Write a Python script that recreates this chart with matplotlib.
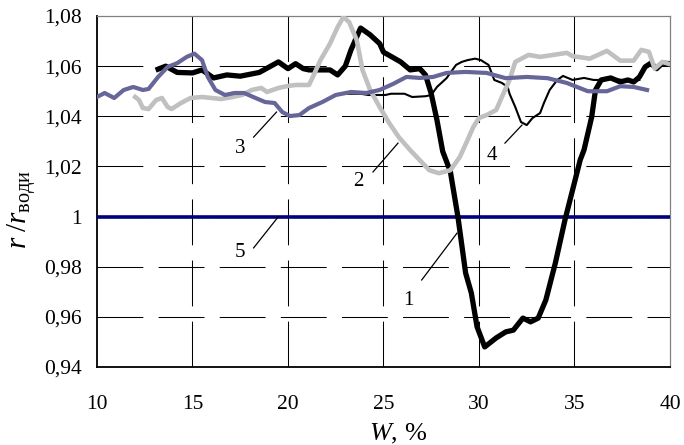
#%% 1) Import
import matplotlib
matplotlib.use('Agg')
import matplotlib.pyplot as plt

#%% 2) Data (W in %, r/r_water)

# curve 1 - thick black
w1 = [13.2, 13.6, 14.2, 15.0, 15.5, 16.1, 16.8, 17.5, 18.5, 19.5, 20.0, 20.4, 20.8,
      21.1, 22.2, 22.6, 23.0, 23.3, 23.8, 24.3, 24.8, 25.0, 25.9, 26.4, 26.9, 27.2,
      27.5, 27.8, 28.1, 28.5, 28.9, 29.3, 29.6, 29.9, 30.3, 30.9, 31.4, 31.8,
      32.3, 32.7, 33.1, 33.5, 34.0, 34.5, 34.9, 35.3, 35.5, 35.9, 36.1, 36.4, 36.9,
      37.4, 37.8, 38.1, 38.4, 38.7, 39.0, 39.3, 39.6, 40.0]
r1 = [1.0588, 1.0600, 1.0575, 1.0573, 1.0585, 1.0553, 1.0565, 1.0560, 1.0575, 1.0617,
      1.0590, 1.0610, 1.0590, 1.0585, 1.0585, 1.0565, 1.0600, 1.0665, 1.0752, 1.0725,
      1.0690, 1.0656, 1.0617, 1.0585, 1.0590, 1.0565, 1.0490, 1.0385, 1.0260, 1.0180,
      0.9998, 0.9775, 0.9695, 0.9560, 0.9480, 0.9516, 0.9540, 0.9547, 0.9595,
      0.9580, 0.9595, 0.9667, 0.9815, 0.9986, 1.0106, 1.0226, 1.0266, 1.0397, 1.0505,
      1.0545, 1.0553, 1.0537, 1.0545, 1.0537, 1.0557, 1.0597, 1.0612, 1.0590, 1.0612,
      1.0610]

# curve 2 - light grey
w2 = [12.0, 12.2, 12.4, 12.7, 13.1, 13.4, 13.7, 13.9, 14.4, 14.9, 15.5, 16.0, 16.5,
      17.1, 17.6, 18.1, 18.6, 18.9, 19.5, 20.0, 20.4, 20.9, 21.1, 21.3, 21.7, 22.2,
      22.6, 22.9, 23.2, 23.6, 23.9, 24.3, 24.8, 25.3, 25.8, 26.4, 26.9, 27.4, 27.9,
      28.5, 29.0, 29.4, 29.7, 30.0, 30.4, 30.9, 31.2, 31.6, 31.9, 32.6, 33.2, 33.9,
      34.6, 34.9, 35.8, 36.7, 37.4, 38.1, 38.5, 38.9, 39.2, 39.6, 39.9]
r2 = [1.0477, 1.0465, 1.0433, 1.0429, 1.0465, 1.0473, 1.0437, 1.0429, 1.0453, 1.0473,
      1.0477, 1.0473, 1.0469, 1.0477, 1.0485, 1.0505, 1.0513, 1.0497, 1.0513, 1.0521,
      1.0525, 1.0525, 1.0525, 1.0557, 1.0624, 1.0690, 1.0756, 1.0796, 1.0776, 1.0704,
      1.0585, 1.0505, 1.0437, 1.0373, 1.0317, 1.0265, 1.0225, 1.0185, 1.0173, 1.0185,
      1.0238, 1.0305, 1.0357, 1.0393, 1.0405, 1.0425, 1.0477, 1.0545, 1.0617, 1.0645,
      1.0637, 1.0645, 1.0653, 1.0640, 1.0630, 1.0661, 1.0622, 1.0622, 1.0665, 1.0657,
      1.0590, 1.0617, 1.0610]

# curve 3 - slate blue
w3 = [10.0, 10.4, 10.9, 11.4, 11.9, 12.4, 12.7, 13.2, 13.7, 14.2, 14.7, 15.1, 15.5,
      15.8, 16.2, 16.7, 17.2, 17.7, 18.3, 18.8, 19.3, 19.7, 20.1, 20.6, 21.1, 21.8,
      22.5, 23.3, 24.1, 24.8, 25.5, 26.2, 26.9, 27.6, 28.3, 29.3, 30.4, 31.4, 32.5,
      33.6, 34.6, 35.7, 36.7, 37.4, 38.1, 38.8]
r3 = [1.0477, 1.0493, 1.0473, 1.0505, 1.0517, 1.0505, 1.0509, 1.0557, 1.0597, 1.0612,
      1.0637, 1.0650, 1.0624, 1.0557, 1.0505, 1.0485, 1.0493, 1.0493, 1.0473, 1.0457,
      1.0453, 1.0417, 1.0401, 1.0405, 1.0433, 1.0457, 1.0485, 1.0497, 1.0493, 1.0505,
      1.0529, 1.0557, 1.0553, 1.0557, 1.0573, 1.0577, 1.0573, 1.0552, 1.0557, 1.0552,
      1.0533, 1.0500, 1.0500, 1.0520, 1.0517, 1.0505]

# curve 4 - thin black
w4 = [23.0, 23.8, 24.2, 25.1, 25.4, 26.1, 26.5, 27.2, 27.5, 27.8, 28.3, 28.8, 29.1,
      29.4, 29.8, 30.1, 30.5, 30.8, 31.2, 31.5, 31.6, 31.9, 32.2, 32.5, 32.8, 33.2,
      33.4, 33.7, 34.1, 34.4, 34.9, 35.5, 36.0, 36.5, 37.0, 37.5, 37.9, 38.4]
r4 = [1.0490, 1.0490, 1.0485, 1.0485, 1.0490, 1.0490, 1.0477, 1.0480, 1.0485, 1.0517,
      1.0552, 1.0605, 1.0617, 1.0624, 1.0630, 1.0624, 1.0605, 1.0545, 1.0533, 1.0517,
      1.0490, 1.0437, 1.0377, 1.0365, 1.0393, 1.0413, 1.0453, 1.0505, 1.0545, 1.0561,
      1.0545, 1.0553, 1.0545, 1.0545, 1.0550, 1.0545, 1.0537, 1.0545]

# curve 5 - water reference
w5 = [10, 40]
r5 = [1.0, 1.0]

# labels of the curves: text position and leader line (from, to)
lab_txt = ['1', '2', '3', '4', '5']
lab_xy = [(26.3, 0.9667), (23.7, 1.0138), (17.5, 1.0273), (30.7, 1.0245), (17.5, 0.9855)]
lead_w = [(27.0, 28.85), (24.45, 25.76), (18.2, 19.4), (31.36, 32.25), (18.2, 19.5)]
lead_r = [(0.9747, 0.9934), (1.0178, 1.0293), (1.0317, 1.0417), (1.0293, 1.0365), (0.9875, 1.0)]

xticks = [10, 15, 20, 25, 30, 35, 40]
yticks = [0.94, 0.96, 0.98, 1.00, 1.02, 1.04, 1.06, 1.08]
ytick_labels = ['0,94', '0,96', '0,98', '1', '1,02', '1,04', '1,06', '1,08']

#%% 3) Plot
plt.rcParams['font.family'] = ['Liberation Serif', 'DejaVu Serif']
plt.rcParams['mathtext.fontset'] = 'custom'
plt.rcParams['mathtext.rm'] = 'Liberation Serif'
plt.rcParams['mathtext.it'] = 'Liberation Serif:italic'

fig = plt.figure(figsize=(6.84, 4.45), dpi=100)
ax = fig.add_axes([0.1418, 0.1753, 0.8377, 0.7887])

# long-dash grid (Excel style), drawn by hand; dashes get scaled by lw
grid_lw = 0.75
grid_ls = (0, (33 / grid_lw, 11 / grid_lw))
for yt in yticks[1:-1]:
    ax.axhline(yt, color='black', lw=grid_lw, linestyle=grid_ls, zorder=1)
for xt in xticks[1:-1]:
    ax.axvline(xt, color='black', lw=grid_lw, linestyle=grid_ls, zorder=1)

ax.plot(w5, r5, color='#000080', lw=2.6, zorder=3)
ax.plot(w1, r1, color='black', lw=3.8, solid_joinstyle='round', zorder=4)
ax.plot(w4, r4, color='black', lw=1.5, zorder=5)
ax.plot(w2, r2, color='#c0c0c0', lw=3.3, solid_joinstyle='round', zorder=6)
ax.plot(w3, r3, color='#666699', lw=3.0, solid_joinstyle='round', zorder=7)

for t, xy, lw_, lr_ in zip(lab_txt, lab_xy, lead_w, lead_r):
    ax.plot(lw_, lr_, color='black', lw=0.9, zorder=8)
    ax.text(xy[0], xy[1], t, fontsize=15, ha='center', va='center', zorder=8)

ax.set_xlim(10, 40)
ax.set_ylim(0.94, 1.08)
ax.set_xticks(xticks)
ax.set_yticks(yticks)
ax.set_yticklabels(ytick_labels)
ax.tick_params(length=0, labelsize=15.5)
ax.tick_params(axis='x', pad=20)
ax.tick_params(axis='y', pad=11)

for s in ['left', 'bottom']:
    ax.spines[s].set_color('black')
    ax.spines[s].set_linewidth(1.3)
for s in ['top', 'right']:
    ax.spines[s].set_color('#808080')
    ax.spines[s].set_linewidth(0.9)

fig.text(398 / 684, 1 - 440 / 445, r'$W$, %', fontsize=19, ha='center', va='baseline')
fig.text(21 / 684, 1 - 209 / 445, r'$r\;/r_{\mathrm{води}}$', fontsize=21,
         rotation=90, ha='center', va='center')

fig.savefig('out.png', dpi=100)
